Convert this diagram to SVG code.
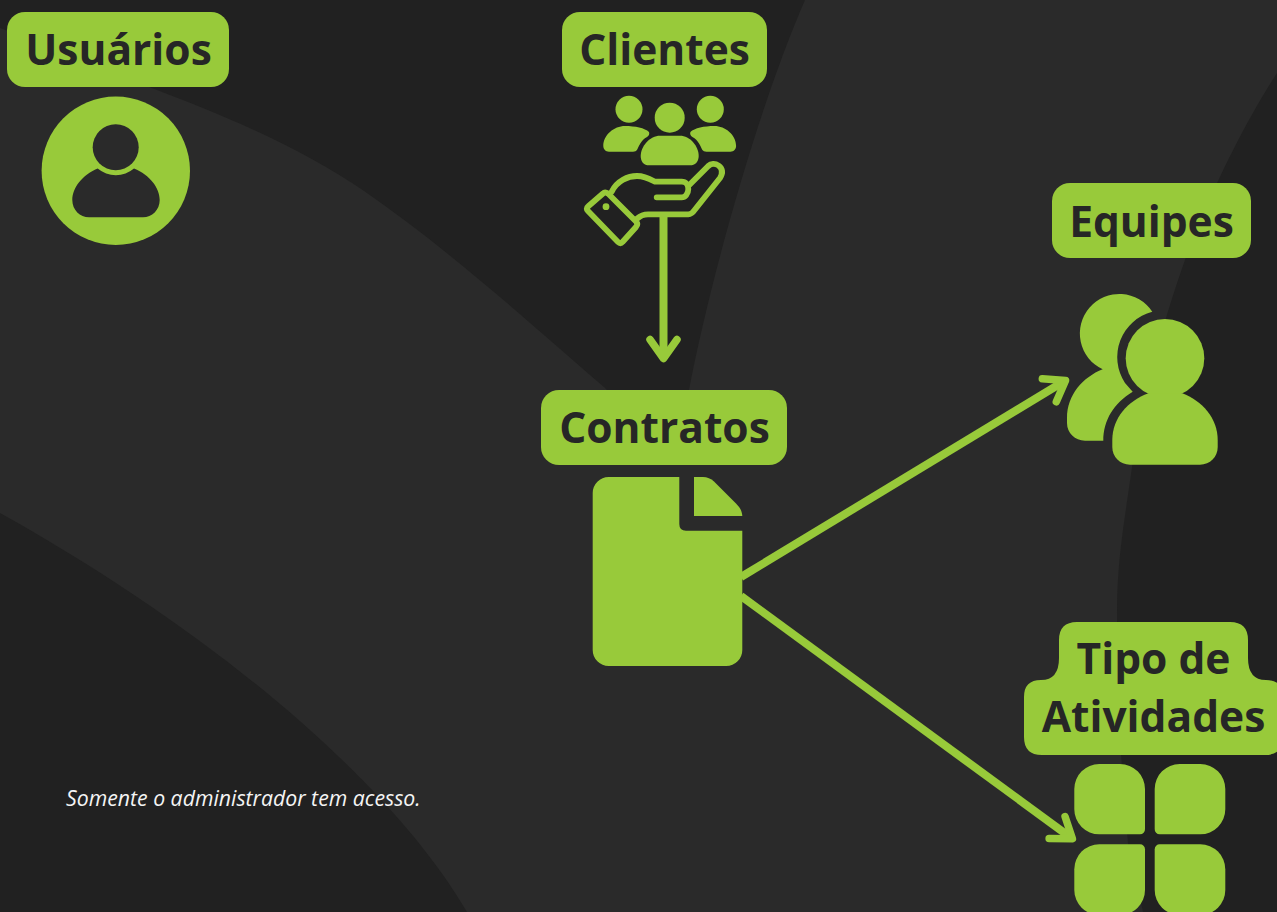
<svg xmlns="http://www.w3.org/2000/svg" width="1277" height="912" viewBox="0 0 1277 912">
<style>
.g{fill:#98ca3a}
.lb{fill:#262626;font-family:"Open Sans","Noto Sans",sans-serif;font-weight:700;font-size:42.5px;text-anchor:middle}
.cn{fill:none;stroke:#98ca3a;stroke-width:8}
.hand{fill:none;stroke:#98ca3a;stroke-width:5.8;stroke-linecap:round;stroke-linejoin:round}
</style>
<defs>
<marker id="arr" markerUnits="userSpaceOnUse" markerWidth="60" markerHeight="60" viewBox="-40 -30 60 60" refX="-3" refY="0" orient="auto">
<path d="M-19 -13.5L0 0L-19 13.5" fill="none" stroke="#98ca3a" stroke-width="7.5" stroke-linecap="round" stroke-linejoin="round"/>
</marker>
</defs>
<g id="background">
<rect width="1277" height="912" fill="#212121"/>
<path fill="#2a2a2a" d="M0 28C55 48 105 70 157 90S295 143 367 193S510 305 604 387L680 465L689 390C708 290 755 115 805 0H1277V73C1240 130 1205 205 1185 260C1160 330 1140 410 1132 467S1117 560 1117 613S1119 750 1128 843L1143 912H467C390 780 210 630 0 513Z"/>
</g>
<g id="connectors">
<path class="cn" d="M663.500 214V355.500" marker-end="url(#arr)"/>
<path class="cn" d="M741 577L1063 382" marker-end="url(#arr)"/>
<path class="cn" d="M741 596L1070 837" marker-end="url(#arr)"/>
</g>
<g id="usuarios">
<rect class="g" x="7" y="12" width="222" height="75" rx="18"/>
<text class="lb" x="118.500" y="65">Usuários</text>
<circle class="g" cx="115.800" cy="170.800" r="74.200"/>
<circle cx="115.700" cy="147.300" r="23" fill="#2a2a2a"/>
<path fill="#2a2a2a" d="M97.700 168.500A28 28 0 0 0 134 168.500C150 175 159.700 188 159.700 200C159.700 210 152 217.300 143 217.300H89C80 217.300 72.300 210 72.300 200C72.300 188 82 175 97.700 168.500Z"/>
</g>
<g id="clientes">
<rect class="g" x="562" y="12" width="205" height="75" rx="18"/>
<text class="lb" x="664.500" y="65">Clientes</text>
<circle class="g" cx="629" cy="109.300" r="13.500"/>
<circle class="g" cx="669.700" cy="117.700" r="15"/>
<circle class="g" cx="710.300" cy="109.300" r="13.500"/>
<path class="g" d="M660 135.700H680C690 135.700 698.700 146 698.700 156C698.700 162 695 165.300 690 165.300H649C644 165.300 640.700 162 640.700 156C640.700 146 650 135.700 660 135.700Z"/>
<path class="g" d="M625 126C635 126 645 128 649 132Q650 135 647 137C641 140 639 146 637 150Q636 151.700 633 151.700H609C605.500 151.700 603.300 149 603.300 146C603.300 135 614 126 625 126Z"/>
<path class="g" d="M714.400 126C704.400 126 694.400 128 690.400 132Q689.400 135 692.400 137C698.400 140 700.400 146 702.400 150Q703.400 151.700 706.400 151.700H730.400C733.900 151.700 736.100 149 736.100 146C736.100 135 725.400 126 714.400 126Z"/>
<path class="hand" d="M603 193.500Q605 191.500 608 193.500L636 221.500Q638.500 224 636 227L622.500 242Q620.500 244.500 618 242L588 211Q585.500 208.500 588 206.500Z"/>
<circle class="g" cx="606" cy="206.700" r="3.400"/>
<path class="hand" d="M611.700 191.700C617 181 628 176 637 176C645 176 650 179 655 181.700H681.700C686 181.700 688.300 185 688.300 189C688.300 194 685 197.300 681.700 197.300H656.700"/>
<path class="hand" d="M689.300 185L708.300 166C711 163.500 715 163 718.500 165.500C722.500 168.500 723 173 720 178L695 209.500C693 212.500 691 214.300 688.300 214.300H648C643 214.300 640 216 637.300 218.500"/>
</g>
<g id="contratos">
<rect class="g" x="541" y="390" width="246" height="75" rx="18"/>
<text class="lb" x="664.500" y="443">Contratos</text>
<path class="g" d="M608.700 477H679.300V524Q679.300 530.700 686 530.700H742.300V650A16 16 0 0 1 726.300 666H608.700A16 16 0 0 1 592.700 650V493A16 16 0 0 1 608.700 477Z"/>
<path class="g" d="M694 477H703C707 477 711 478.500 714 481.500L736 503.500C740 507.500 742 511 742.300 516H694Z"/>
</g>
<g id="equipes">
<rect class="g" x="1052" y="183" width="199" height="75" rx="18"/>
<text class="lb" x="1151.500" y="236.500">Equipes</text>
<path class="g" d="M1152.300 311.700A39.500 39.500 0 1 0 1102.700 369.300C1083 377 1067 395 1067 418V423C1067 433 1075 440.700 1085 440.700H1103.300C1103.300 420 1114 403 1132.700 391.700L1125 383A47 47 0 0 1 1152.300 311.700Z"/>
<circle class="g" cx="1165" cy="358.300" r="39.300"/>
<path class="g" d="M1148.300 393.300C1128 401 1112.300 418 1112.300 440V447C1112.300 457 1120 464.700 1130 464.700H1200C1210 464.700 1217.700 457 1217.700 447V440C1217.700 418 1202 401 1182.300 393.300Z"/>
</g>
<g id="tipo-de-atividades">
<path class="g" d="M1077 622H1230Q1248 622 1248 640V658Q1248 680 1266 680Q1283 680 1283 697V737Q1283 755 1265 755H1042Q1024 755 1024 737V697Q1024 680 1041 680Q1059 680 1059 658V640Q1059 622 1077 622Z"/>
<text class="lb"><tspan x="1153.500" y="674">Tipo de</tspan><tspan x="1153.500" y="732">Atividades</tspan></text>
<path class="g" d="M1099.300 764H1120A25 25 0 0 1 1145 789V829A5 5 0 0 1 1140 834.300H1099.300A25 25 0 0 1 1074.300 809.300V789A25 25 0 0 1 1099.300 764Z"/>
<path class="g" d="M1200.300 764H1179.700A25 25 0 0 0 1154.700 789V829A5 5 0 0 0 1159.700 834.300H1200.300A25 25 0 0 0 1225.300 809.300V789A25 25 0 0 0 1200.300 764Z"/>
<path class="g" d="M1099.300 915H1120A25 25 0 0 0 1145 890V849.300A5 5 0 0 0 1140 844.300H1099.300A25 25 0 0 0 1074.300 869.300V890A25 25 0 0 0 1099.300 915Z"/>
<path class="g" d="M1200.300 915H1179.700A25 25 0 0 1 1154.700 890V849.300A5 5 0 0 1 1159.700 844.300H1200.300A25 25 0 0 1 1225.300 869.300V890A25 25 0 0 1 1200.300 915Z"/>
</g>
<text id="nota" x="66" y="806" fill="#f4f4f4" font-family="'Open Sans','Noto Sans',sans-serif" font-style="italic" font-size="21.250">Somente o administrador tem acesso.</text>
</svg>
